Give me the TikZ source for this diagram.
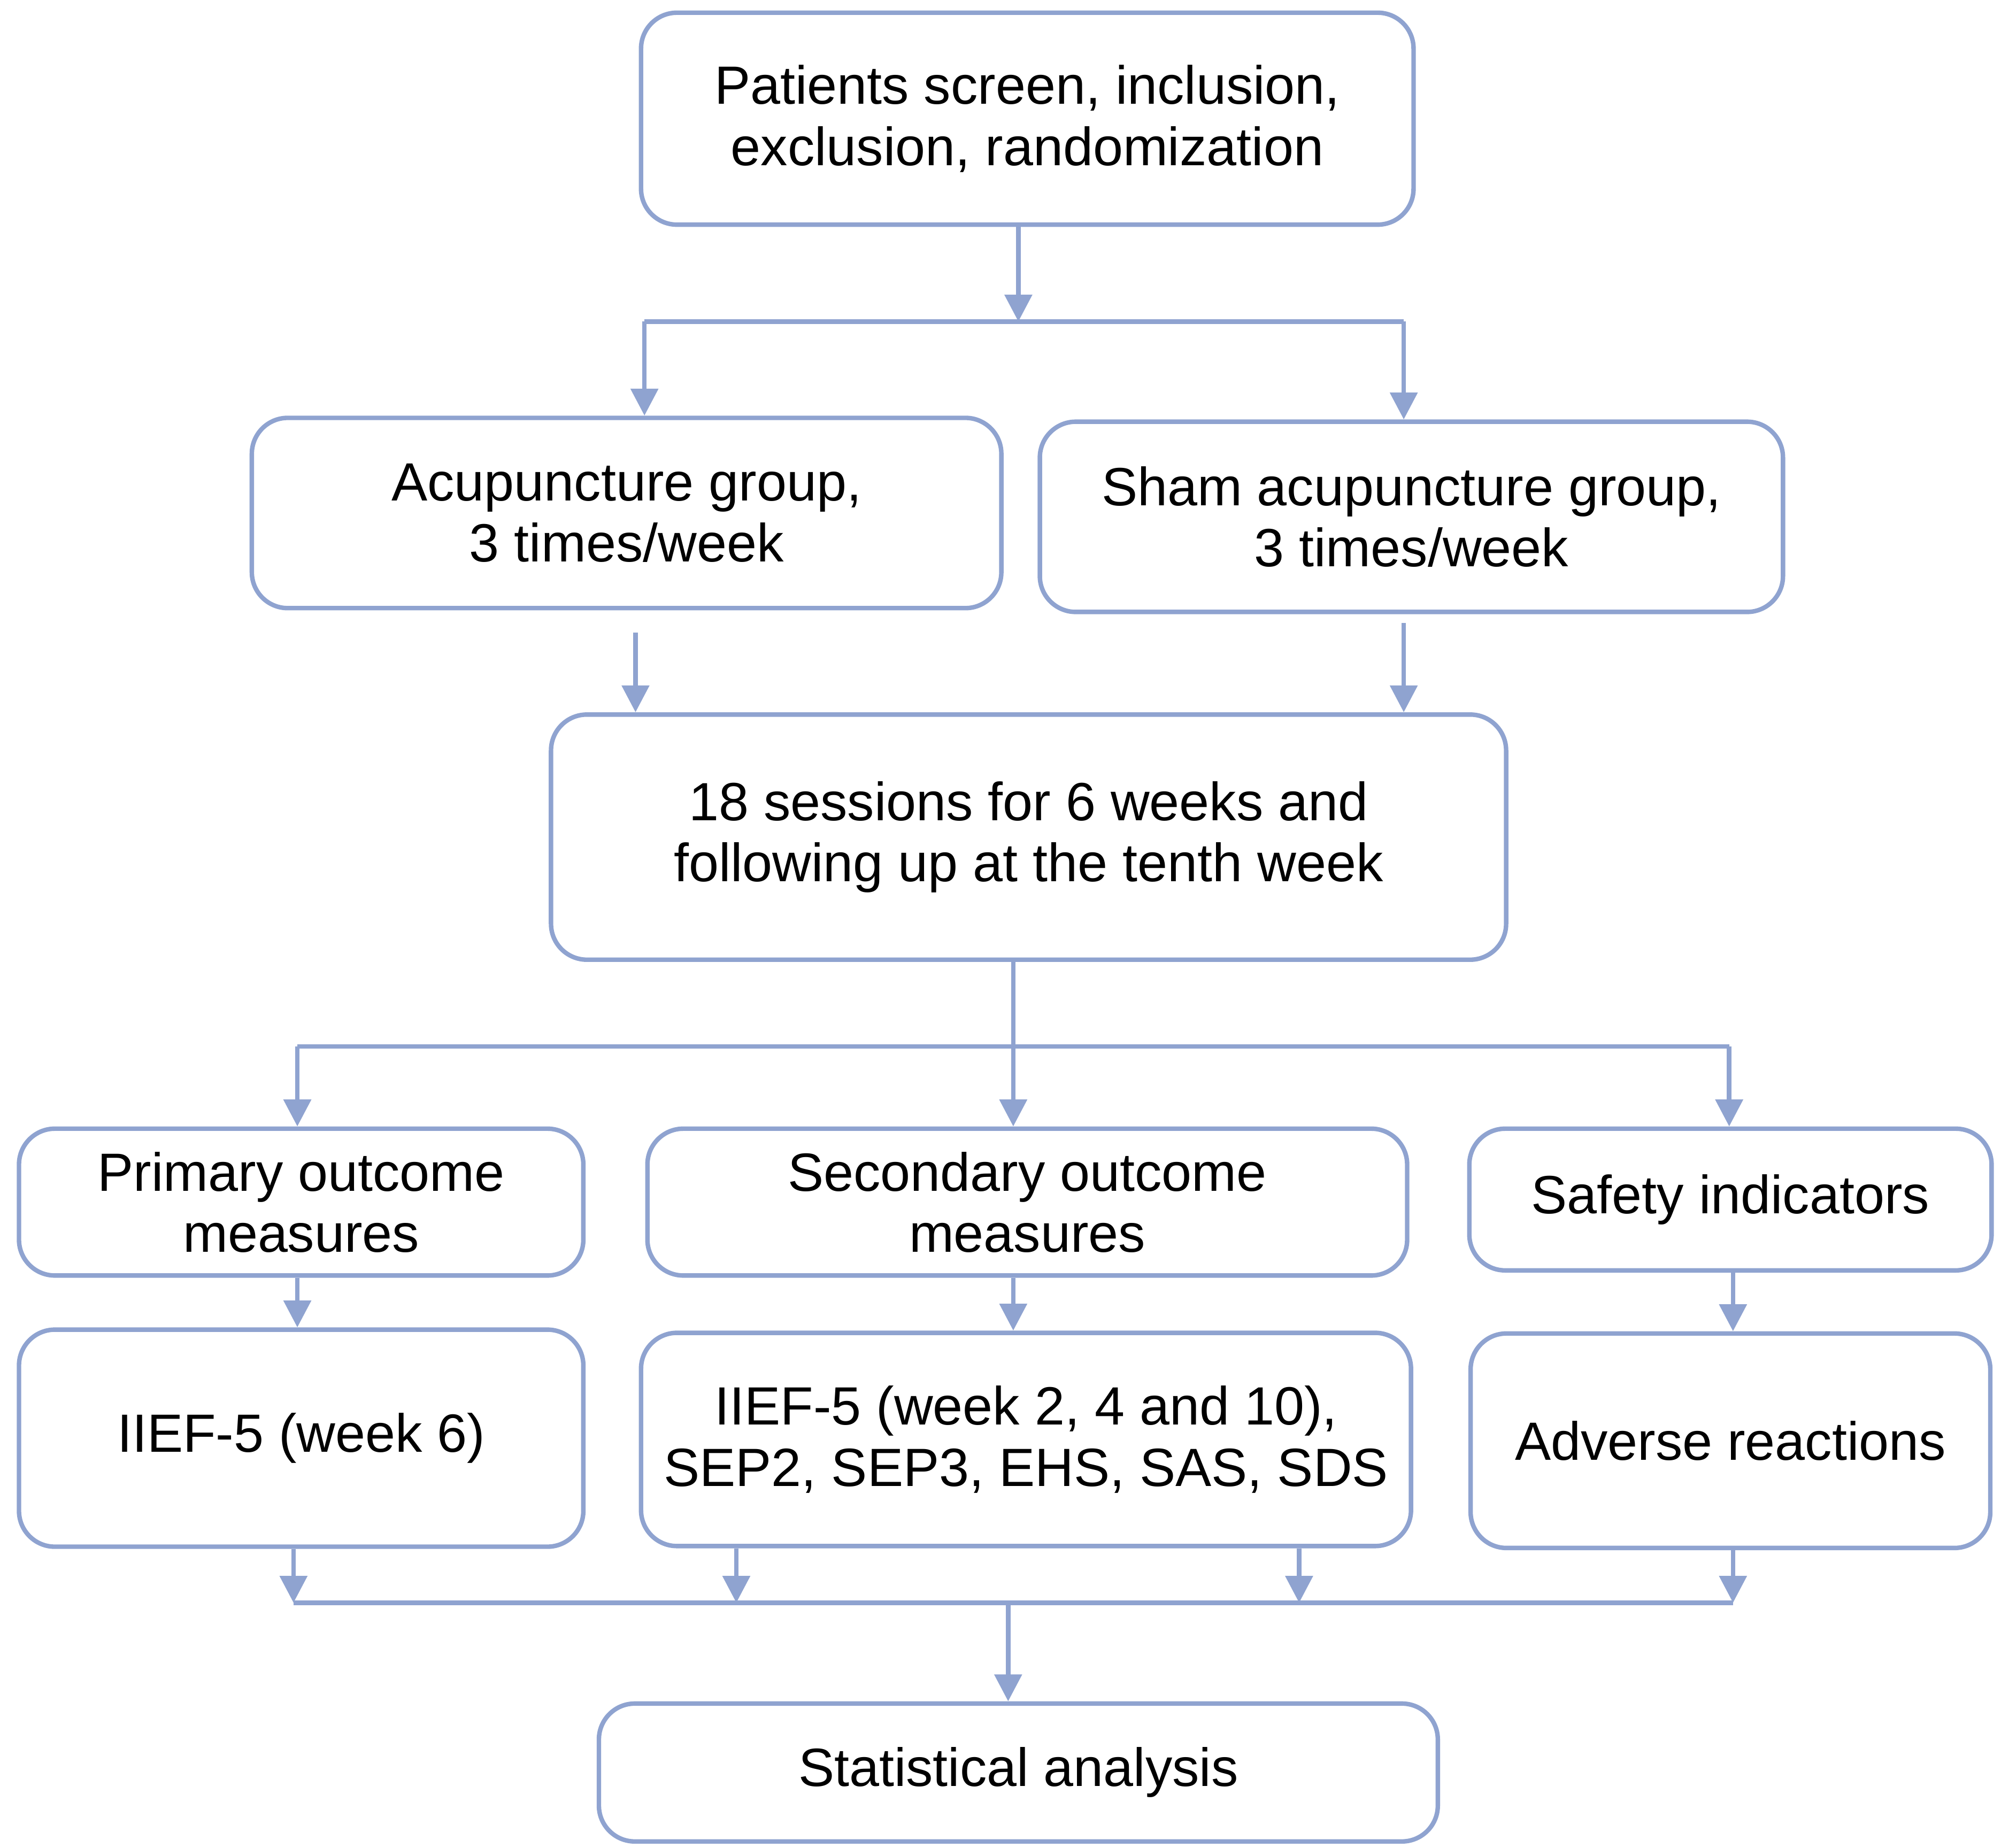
\documentclass[tikz,border=0pt]{standalone}
\usepackage{fontspec}
\setmainfont{Liberation Sans}
\usetikzlibrary{arrows.meta}
\definecolor{flowblue}{HTML}{8FA3D0}
\tikzset{
  box/.style={draw=flowblue, line width=1pt, rounded corners=8pt, align=center,
    font=\fontsize{12}{13.6}\selectfont, inner sep=0pt},
  link/.style={flowblue, line width=1pt},
  arr/.style={link, -{Triangle[width=6pt,length=6pt]}}
}
\begin{document}
\begin{tikzpicture}[x=0.01cm,y=-0.01cm]
      \useasboundingbox (0,0) rectangle (1568,1448);
      \node[box, minimum width=6.05cm, minimum height=1.66cm] (screen) at (805,93) {Patients screen, inclusion,\\exclusion, randomization};
      \node[box, minimum width=5.87cm, minimum height=1.49cm] (acu) at (491,402) {Acupuncture group,\\3 times/week};
      \node[box, minimum width=5.82cm, minimum height=1.49cm] (sham) at (1106,405) {Sham acupuncture group,\\3 times/week};
      \node[box, minimum width=7.48cm, minimum height=1.92cm] (sess) at (806,656) {18 sessions for 6 weeks and\\following up at the tenth week};
      \node[box, minimum width=4.42cm, minimum height=1.15cm] (prim) at (236,942) {Primary outcome\\measures};
      \node[box, minimum width=5.95cm, minimum height=1.15cm] (sec) at (805,942) {Secondary outcome\\measures};
      \node[box, minimum width=4.09cm, minimum height=1.11cm] (safe) at (1356,940) {Safety indicators};
      \node[box, minimum width=4.42cm, minimum height=1.70cm] (iief) at (236,1127) {IIEF-5 (week 6)};
      \node[box, minimum width=6.03cm, minimum height=1.67cm] (scales) at (804,1128) {IIEF-5 (week 2, 4 and 10),\\SEP2, SEP3, EHS, SAS, SDS};
      \node[box, minimum width=4.07cm, minimum height=1.68cm] (adv) at (1356,1129) {Adverse reactions};
      \node[box, minimum width=6.57cm, minimum height=1.08cm] (stat) at (798,1389) {Statistical analysis};
      % junctions
      \coordinate (j1) at (798,252);
      \coordinate (j1l) at (505,252);
      \coordinate (j1r) at (1100,252);
      \coordinate (j2) at (794,820);
      \coordinate (j2l) at (233,820);
      \coordinate (j2r) at (1355,820);
      \coordinate (j3l) at (230,1256);
      \coordinate (j3r) at (1358,1256);
      \coordinate (j3) at (790,1256);
      % connectors
      \draw[arr] (screen.south -| j1) -- (j1);
      \draw[link] (j1l) -- (j1r);
      \draw[arr] (j1l) -- (j1l |- acu.north);
      \draw[arr] (j1r) -- (j1r |- sham.north);
      \draw[arr] ([yshift=-5pt]acu.south -| 498,0) -- (sess.north -| 498,0);
      \draw[arr] ([yshift=-2pt]sham.south -| j1r) -- (sess.north -| j1r);
      \draw[arr] (sess.south -| j2) -- (sec.north -| j2);
      \draw[link] (j2l) -- (j2r);
      \draw[arr] (j2l) -- (j2l |- prim.north);
      \draw[arr] (j2r) -- (j2r |- safe.north);
      \draw[arr] (prim.south -| j2l) -- (iief.north -| j2l);
      \draw[arr] (sec.south -| j2) -- (scales.north -| j2);
      \draw[arr] (safe.south -| j3r) -- (adv.north -| j3r);
      \draw[arr] (iief.south -| j3l) -- (j3l);
      \draw[arr] (scales.south -| 577,0) -- (577,1256);
      \draw[arr] (scales.south -| 1018,0) -- (1018,1256);
      \draw[arr] (adv.south -| j3r) -- (j3r);
      \draw[link] (j3l) -- (j3r);
      \draw[arr] (j3) -- (stat.north -| j3);
\end{tikzpicture}
\end{document}
